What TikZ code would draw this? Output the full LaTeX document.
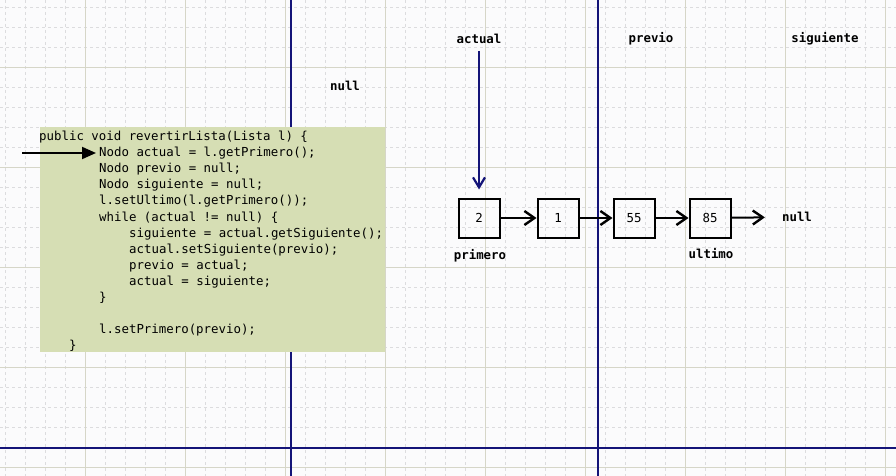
\documentclass[tikz,border=0pt]{standalone}
\usepackage{fontspec}
\setmonofont{DejaVu Sans Mono}
\usepackage{tikz}
\usetikzlibrary{arrows.meta}
\definecolor{navyln}{RGB}{20,20,120}
\definecolor{codebg}{RGB}{214,222,180}
\definecolor{paperbg}{RGB}{251,251,252}
\definecolor{gridmaj}{RGB}{214,214,200}
\definecolor{gridmin}{RGB}{220,220,222}
\newcommand{\cfont}{\ttfamily\fontsize{12.4}{16}\selectfont}
\tikzset{
  codeln/.style  = {anchor=base west, inner sep=0pt, font=\cfont},
  varlbl/.style  = {font=\cfont\bfseries, inner sep=1pt},
  nodebox/.style = {draw, line width=2pt, minimum width=41pt, minimum height=39pt,
                    inner sep=0pt, font=\cfont},
  linkarr/.style = {-{Straight Barb[length=10pt,width=14pt,line width=2.4pt]}, line width=2pt},
  ptrarr/.style  = {-{Straight Barb[length=10pt,width=12pt,line width=2.2pt]}, line width=2pt, navyln},
  pcarr/.style   = {-{Triangle[length=14pt,width=12pt]}, line width=2pt},
  sepline/.style = {navyln, line width=1.5pt}
}

\begin{document}
\begin{tikzpicture}[x=1pt,y=-1pt]
  \useasboundingbox (0,0) rectangle (896,476);
  \fill[paperbg] (0,0) rectangle (896,476);
  % grid
  \foreach \x in {5,25,...,885}
    { \draw[gridmin,dashed,thin] (\x,0) -- (\x,476); }
  \foreach \y in {7,27,...,467}
    { \draw[gridmin,dashed,thin] (0,\y) -- (896,\y); }
  \foreach \x in {85,185,...,885}
    { \draw[gridmaj,thin] (\x,0) -- (\x,476); }
  \foreach \y in {67,167,...,467}
    { \draw[gridmaj,thin] (0,\y) -- (896,\y); }
  % separators
  \draw[sepline] (291,0) -- (291,476);
  \draw[sepline] (598,0) -- (598,476);
  \draw[sepline] (0,448) -- (896,448);

  % code
  \fill[codebg] (40,127) rectangle (385,352);
  \foreach \n/\cx/\txt in {
      1/39/{public void revertirLista(Lista l) \{},
      2/99/{Nodo actual = l.getPrimero();},
      3/99/{Nodo previo = null;},
      4/99/{Nodo siguiente = null;},
      5/99/{l.setUltimo(l.getPrimero());},
      6/99/{while (actual != null) \{},
      7/129/{siguiente = actual.getSiguiente();},
      8/129/{actual.setSiguiente(previo);},
      9/129/{previo = actual;},
      10/129/{actual = siguiente;},
      11/99/{\}},
      13/99/{l.setPrimero(previo);},
      14/69/{\}}}
    { \node[codeln] (ln\n) at (\cx,{140.5+16.1*(\n-1)}) {\txt}; }
  \coordinate (pc) at (22,153);
  \draw[pcarr] (pc) -- ([xshift=-3pt]ln2.west |- pc);

  % variables
  \node[varlbl] (nulltop) at (345,86) {null};
  \node[varlbl] (actual) at (479,39) {actual};
  \node[varlbl] (previo) at (651,39) {previo};
  \node[varlbl] (siguiente) at (825,39) {siguiente};

  % list
  \node[nodebox] (b2)  at (479,218) {2};
  \node[nodebox] (b1)  at (558,218) {1};
  \node[nodebox] (b55) at (634,218) {55};
  \node[nodebox] (b85) at (710,218) {85};
  \node[varlbl] (nullr) at (797,217) {null};
  \node[varlbl] (primero) at (480,256) {primero};
  \node[varlbl] (ultimo) at (711,254) {ultimo};

  \draw[linkarr] (b2) -- (b1);
  \draw[linkarr] (b1) -- (b55);
  \draw[linkarr] (b55) -- (b85);
  \draw[linkarr,shorten >=16pt] (b85) -- (nullr);
  \draw[ptrarr,shorten <=6pt,shorten >=8pt] (actual.south -| b2) -- (b2);
\end{tikzpicture}
\end{document}
